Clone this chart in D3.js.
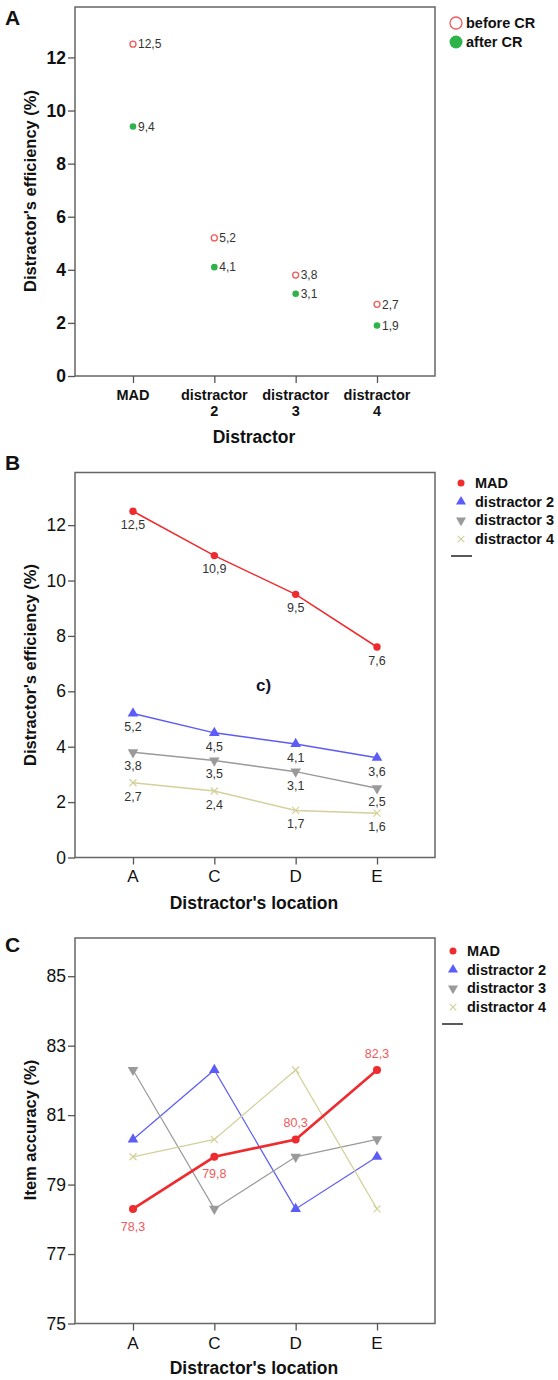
<!DOCTYPE html>
<html><head><meta charset="utf-8">
<script src="https://cdn.jsdelivr.net/npm/d3@7"></script>
<style>body{margin:0;background:#fff}svg{display:block;font-family:"Liberation Sans",Arial,sans-serif}</style>
</head><body><svg id="c" width="558" height="1380"></svg>
<script>
const catsA = ["MAD", "distractor 2", "distractor 3", "distractor 4"];
const beforeCR = [12.5, 5.2, 3.8, 2.7];
const afterCR = [9.4, 4.1, 3.1, 1.9];
const locations = ["A", "C", "D", "E"];
const effMAD = [12.5, 10.9, 9.5, 7.6];
const effD2 = [5.2, 4.5, 4.1, 3.6];
const effD3 = [3.8, 3.5, 3.1, 2.5];
const effD4 = [2.7, 2.4, 1.7, 1.6];
const accMAD = [78.3, 79.8, 80.3, 82.3];
const accD2 = [80.3, 82.3, 78.3, 79.8];
const accD3 = [82.3, 78.3, 79.8, 80.3];
const accD4 = [79.8, 80.3, 82.3, 78.3];
const seriesNames = ["MAD", "distractor 2", "distractor 3", "distractor 4"];
const ticksEff = [0, 2, 4, 6, 8, 10, 12];
const ticksAcc = [75, 77, 79, 81, 83, 85];

const svg = d3.select("#c");
const fmt = v => d3.format(".1f")(v).replace(".", ",");
const colors = ["#ee2b2f", "#5c5cf7", "#9a9a9a", "#d4d09a"];
const L = 75, R = 435;

function frame(yScale, x, top, bottom, ticks, boldTicks, tickFs) {
  const g = svg.append("g");
  g.append("rect").attr("x", L).attr("y", top).attr("width", R - L).attr("height", bottom - top)
    .attr("fill", "none").attr("stroke", "#666").attr("stroke-width", 1.5);
  const ya = g.append("g").attr("transform", `translate(${L},0)`)
    .call(d3.axisLeft(yScale).tickValues(ticks).tickSize(7).tickPadding(2).tickFormat(d3.format("d")));
  ya.select(".domain").remove();
  ya.selectAll("line").attr("stroke", "#555").attr("stroke-width", 1.3);
  ya.selectAll("text").attr("font-size", tickFs).attr("font-weight", boldTicks ? "bold" : "normal")
    .attr("fill", "#111").attr("font-family", '"Liberation Sans",Arial,sans-serif');
  const xa = g.append("g").attr("transform", `translate(0,${bottom})`)
    .call(d3.axisBottom(x).tickSize(7).tickFormat(""));
  xa.select(".domain").remove();
  xa.selectAll("line").attr("stroke", "#555").attr("stroke-width", 1.3);
  return g;
}

function ytitle(text, cy) {
  svg.append("text").attr("transform", `translate(36,${cy}) rotate(-90)`).attr("text-anchor", "middle")
    .attr("font-size", 16.5).attr("font-weight", "bold").attr("fill", "#111").text(text);
}
function xtitle(text, y) {
  svg.append("text").attr("x", 254).attr("y", y).attr("text-anchor", "middle")
    .attr("font-size", 17.5).attr("font-weight", "bold").attr("fill", "#111").text(text);
}
function panelLetter(t, y) {
  svg.append("text").attr("x", 5).attr("y", y).attr("font-size", 21).attr("font-weight", "bold").attr("fill", "#111").text(t);
}

// ---------- Panel A ----------
const xA = d3.scalePoint().domain(catsA).range([L, R]).padding(0.713);
const yA = d3.scaleLinear().domain([0, 13.9]).range([376, 7]);
frame(yA, xA, 7, 376, ticksEff, true, 17.5);
panelLetter("A", 25);
catsA.forEach(c => {
  const parts = c.split(" ");
  const t = svg.append("text").attr("x", xA(c)).attr("y", 400).attr("text-anchor", "middle")
    .attr("font-size", 14.5).attr("font-weight", "bold").attr("fill", "#111");
  parts.forEach((p, i) => t.append("tspan").attr("x", xA(c)).attr("dy", i ? 16 : 0).text(p));
});
ytitle("Distractor's efficiency (%)", 191);
xtitle("Distractor", 443);
const gA = svg.append("g");
catsA.forEach((c, i) => {
  gA.append("circle").attr("cx", xA(c)).attr("cy", yA(beforeCR[i])).attr("r", 3)
    .attr("fill", "#fff").attr("stroke", "#f05a5a").attr("stroke-width", 1.3);
  gA.append("text").attr("x", xA(c) + 5).attr("y", yA(beforeCR[i])).attr("dy", "0.35em")
    .attr("font-size", 12).attr("fill", "#333").text(fmt(beforeCR[i]));
  gA.append("circle").attr("cx", xA(c)).attr("cy", yA(afterCR[i])).attr("r", 3.3).attr("fill", "#2db34a");
  gA.append("text").attr("x", xA(c) + 5).attr("y", yA(afterCR[i])).attr("dy", "0.35em")
    .attr("font-size", 12).attr("fill", "#333").text(fmt(afterCR[i]));
});
// legend A
svg.append("circle").attr("cx", 456).attr("cy", 23).attr("r", 6).attr("fill", "#fff").attr("stroke", "#f05a5a").attr("stroke-width", 1.3);
svg.append("text").attr("x", 466).attr("y", 23).attr("dy", "0.35em").attr("font-size", 14.5).attr("font-weight", "bold").attr("fill", "#111").text("before CR");
svg.append("circle").attr("cx", 456).attr("cy", 42).attr("r", 6.5).attr("fill", "#2db34a");
svg.append("text").attr("x", 466).attr("y", 42).attr("dy", "0.35em").attr("font-size", 14.5).attr("font-weight", "bold").attr("fill", "#111").text("after CR");

// marker drawing
function marker(g, kind, x, y, color, s) {
  if (kind === 0) g.append("circle").attr("cx", x).attr("cy", y).attr("r", s).attr("fill", color);
  else if (kind === 1) g.append("path").attr("d", d3.symbol(d3.symbolTriangle, s * s * 4)())
    .attr("transform", `translate(${x},${y})`).attr("fill", color);
  else if (kind === 2) g.append("path").attr("d", d3.symbol(d3.symbolTriangle, s * s * 4)())
    .attr("transform", `translate(${x},${y}) rotate(180)`).attr("fill", color);
  else g.append("path").attr("d", `M${x - s},${y - s}L${x + s},${y + s}M${x - s},${y + s}L${x + s},${y - s}`)
    .attr("stroke", color).attr("stroke-width", 1.2).attr("fill", "none");
}
function legend(x0, y0, tx, lineX0, lineX1, lineY) {
  seriesNames.forEach((n, i) => {
    const y = y0 + i * 18.7;
    marker(svg, i, x0, y, colors[i], i === 0 ? 3.5 : 3.3);
    svg.append("text").attr("x", tx).attr("y", y).attr("dy", "0.35em").attr("font-size", 14.5)
      .attr("font-weight", "bold").attr("fill", "#111").text(n);
  });
  svg.append("line").attr("x1", lineX0).attr("x2", lineX1).attr("y1", lineY).attr("y2", lineY)
    .attr("stroke", "#222").attr("stroke-width", 1.5);
}

// ---------- Panel B ----------
const xB = d3.scalePoint().domain(locations).range([L, R]).padding(0.713);
const yB = d3.scaleLinear().domain([0, 13.9]).range([857.5, 472.5]);
frame(yB, xB, 472.5, 857.5, ticksEff, false, 17.5);
panelLetter("B", 470);
locations.forEach(c => svg.append("text").attr("x", xB(c)).attr("y", 882).attr("text-anchor", "middle")
  .attr("font-size", 17).attr("fill", "#111").text(c));
ytitle("Distractor's efficiency (%)", 665);
xtitle("Distractor's location", 909);
svg.append("text").attr("x", 256).attr("y", 691).attr("font-size", 17).attr("font-weight", "bold").attr("fill", "#14142e").text("c)");
const effSeries = [effMAD, effD2, effD3, effD4];
const lineB = d3.line().x((d, i) => xB(locations[i])).y(d => yB(d));
effSeries.forEach((s, k) => {
  const g = svg.append("g");
  g.append("path").attr("d", lineB(s)).attr("fill", "none").attr("stroke", colors[k]).attr("stroke-width", 1.5);
  s.forEach((v, i) => {
    marker(g, k, xB(locations[i]), yB(v), colors[k], k === 0 ? 3.7 : 3.5);
    g.append("text").attr("x", xB(locations[i])).attr("y", yB(v) + 13.5).attr("dy", "0.35em").attr("text-anchor", "middle")
      .attr("font-size", 12.5).attr("fill", "#333").text(fmt(v));
  });
});
legend(461, 483, 475, 451, 472, 556);

// ---------- Panel C ----------
const yC = d3.scaleLinear().domain([75, 86.1]).range([1323.5, 938]);
frame(yC, xB, 938, 1323.5, ticksAcc, false, 17.5);
panelLetter("C", 952);
locations.forEach(c => svg.append("text").attr("x", xB(c)).attr("y", 1349).attr("text-anchor", "middle")
  .attr("font-size", 17).attr("fill", "#111").text(c));
ytitle("Item accuracy (%)", 1130);
xtitle("Distractor's location", 1374);
const accSeries = [accMAD, accD2, accD3, accD4];
const lineC = d3.line().x((d, i) => xB(locations[i])).y(d => yC(d));
[1, 2, 3, 0].forEach(k => {
  const s = accSeries[k];
  const g = svg.append("g");
  g.append("path").attr("d", lineC(s)).attr("fill", "none").attr("stroke", colors[k]).attr("stroke-width", k === 0 ? 2.6 : 1.2);
  s.forEach((v, i) => marker(g, k, xB(locations[i]), yC(v), colors[k], k === 0 ? 4 : 3.5));
});
const accLabelPos = [1.1, 1, -1, -1];
accMAD.forEach((v, i) => svg.append("text").attr("x", xB(locations[i])).attr("y", yC(v) + accLabelPos[i] * 16.5)
  .attr("dy", "0.35em").attr("text-anchor", "middle").attr("font-size", 12.5).attr("fill", "#f05a5a").text(fmt(v)));
legend(453, 951, 467, 442, 463, 1024);
</script></body></html>
